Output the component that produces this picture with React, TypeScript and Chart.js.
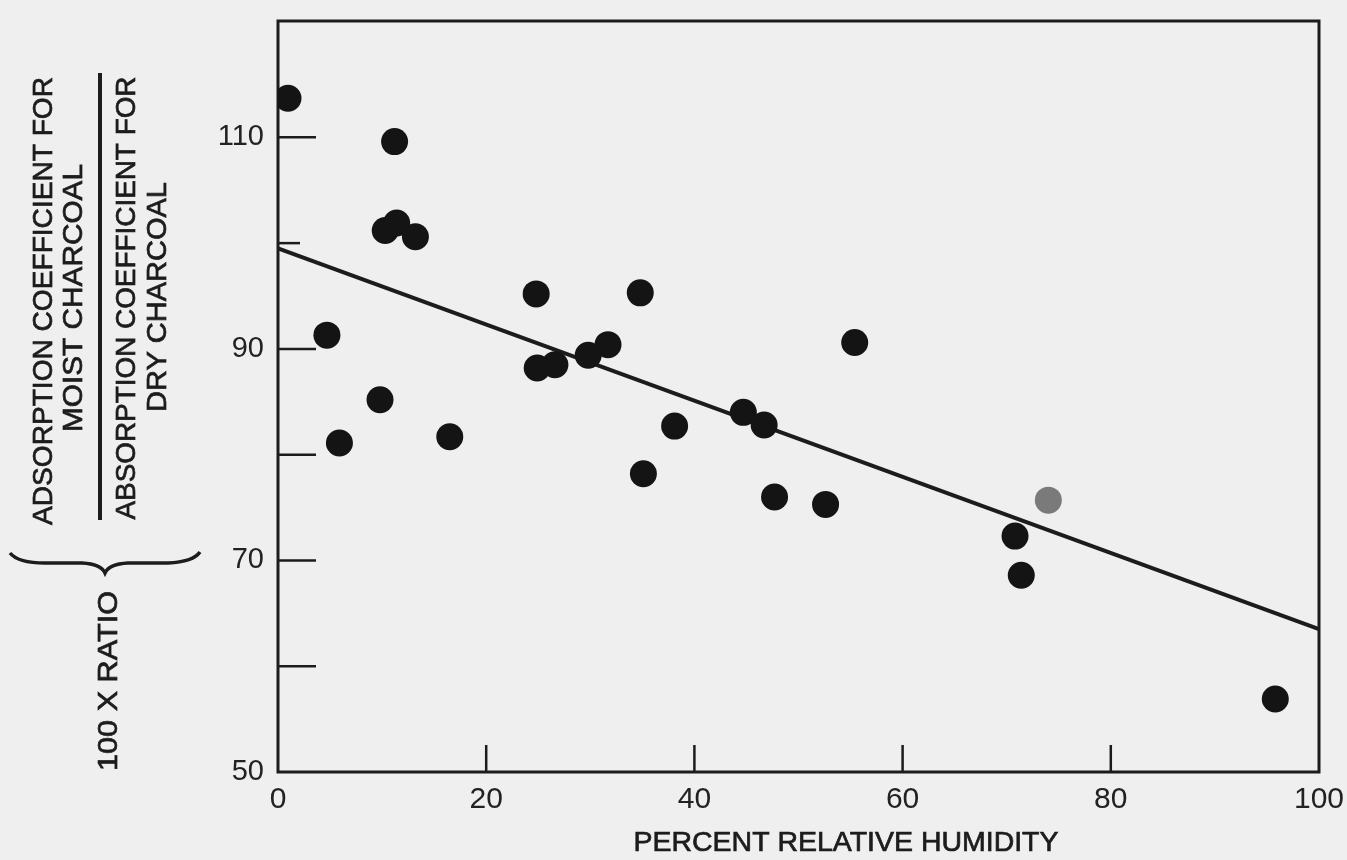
import React, { useEffect, useRef } from "react";
import { Chart, registerables } from "chart.js";

Chart.register(...registerables);

// ---- data ----
const humidity = [0.96, 11.2, 10.3, 11.4, 13.2, 4.7, 9.8, 5.9, 16.5, 24.8, 24.9, 26.6, 29.8, 31.7, 34.8, 35.1, 38.1, 44.7, 46.7, 47.7, 52.6, 55.4, 70.8, 71.4, 74.0, 95.8];
const ratio = [113.7, 109.6, 101.2, 101.9, 100.6, 91.3, 85.2, 81.1, 81.7, 95.2, 88.2, 88.5, 89.4, 90.4, 95.3, 78.2, 82.7, 84.0, 82.8, 76.0, 75.3, 90.6, 72.3, 68.6, 75.7, 56.9];
const fadedPoints = [24];
const fitX = [0, 100];
const fitY = [99.5, 63.5];
const yLabeledTicks = [50, 70, 90, 110];
const yTickMarks = [60, 70, 80, 90, 100, 110];
const yShortTickMarks = [100];
const xTickMarks = [20, 40, 60, 80];
const xTitle = "PERCENT RELATIVE HUMIDITY";
const numeratorLines = ["ADSORPTION COEFFICIENT FOR", "MOIST CHARCOAL"];
const denominatorLines = ["ABSORPTION COEFFICIENT FOR", "DRY CHARCOAL"];
const ratioLabel = "100 X RATIO";

const FONT = '"Liberation Sans", Arial, "Helvetica", sans-serif';
const INK = "#1c1c1c";

function vText(ctx: CanvasRenderingContext2D, text: string, cx: number, cy: number, len: number, size: number) {
  ctx.save();
  ctx.font = `${size}px ${FONT}`;
  const w = ctx.measureText(text).width;
  ctx.translate(cx, cy);
  ctx.rotate(-Math.PI / 2);
  ctx.scale(len / w, 1);
  ctx.textAlign = "center";
  ctx.textBaseline = "middle";
  ctx.fillStyle = INK;
  ctx.strokeStyle = INK;
  ctx.lineWidth = 0.7;
  ctx.fillText(text, 0, 0);
  ctx.strokeText(text, 0, 0);
  ctx.restore();
}

function hText(ctx: CanvasRenderingContext2D, text: string, cx: number, cy: number, len: number, size: number) {
  ctx.save();
  ctx.font = `${size}px ${FONT}`;
  const w = ctx.measureText(text).width;
  ctx.translate(cx, cy);
  ctx.scale(len / w, 1);
  ctx.textAlign = "center";
  ctx.textBaseline = "middle";
  ctx.fillStyle = INK;
  ctx.strokeStyle = INK;
  ctx.lineWidth = 0.7;
  ctx.fillText(text, 0, 0);
  ctx.strokeText(text, 0, 0);
  ctx.restore();
}

const decor = {
  id: "decor",
  beforeDatasetsDraw(chart: any) {
    const { ctx, chartArea: a, scales } = chart;
    ctx.save();
    ctx.strokeStyle = INK;
    // frame
    ctx.lineWidth = 3;
    ctx.strokeRect(a.left, a.top, a.right - a.left, a.bottom - a.top);
    // y tick marks (inside)
    ctx.lineWidth = 2.5;
    yTickMarks.forEach((v) => {
      const y = scales.y.getPixelForValue(v);
      const len = yShortTickMarks.includes(v) ? 22 : 38;
      ctx.beginPath();
      ctx.moveTo(a.left, y);
      ctx.lineTo(a.left + len, y);
      ctx.stroke();
    });
    // x tick marks (inside)
    xTickMarks.forEach((v) => {
      const x = scales.x.getPixelForValue(v);
      ctx.beginPath();
      ctx.moveTo(x, a.bottom);
      ctx.lineTo(x, a.bottom - 27);
      ctx.stroke();
    });
    ctx.restore();
  },
  afterDraw(chart: any) {
    const { ctx } = chart;
    // x title
    hText(ctx, xTitle, 846, 843, 425, 28);
    // left fraction title
    vText(ctx, numeratorLines[0], 44, 301, 448, 28);
    vText(ctx, numeratorLines[1], 74, 298, 268, 28);
    vText(ctx, denominatorLines[0], 127, 298, 443, 28);
    vText(ctx, denominatorLines[1], 158, 297, 230, 28);
    ctx.save();
    ctx.strokeStyle = INK;
    ctx.lineWidth = 4;
    ctx.beginPath();
    ctx.moveTo(100, 73);
    ctx.lineTo(100, 520);
    ctx.stroke();
    // brace
    ctx.lineWidth = 3.5;
    ctx.beginPath();
    ctx.moveTo(10, 553);
    ctx.quadraticCurveTo(18, 563, 45, 563);
    ctx.lineTo(82, 563);
    ctx.quadraticCurveTo(101, 564, 105, 573);
    ctx.quadraticCurveTo(109, 564, 128, 563);
    ctx.lineTo(168, 563);
    ctx.quadraticCurveTo(193, 562, 200, 552);
    ctx.stroke();
    ctx.restore();
    vText(ctx, ratioLabel, 110, 681, 180, 27);
  },
};

function zeroPad(s: any) {
  s.paddingTop = 0;
  s.paddingBottom = 0;
  s.paddingLeft = 0;
  s.paddingRight = 0;
}

export default function App() {
  const ref = useRef<HTMLCanvasElement | null>(null);
  useEffect(() => {
    if (!ref.current) return;
    const points = humidity.map((x, i) => ({ x, y: ratio[i] }));
    const fit = fitX.map((x, i) => ({ x, y: fitY[i] }));
    const colors = humidity.map((_, i) => (fadedPoints.includes(i) ? "#7a7a7a" : "#141414"));
    const chart = new Chart(ref.current, {
      type: "scatter",
      data: {
        datasets: [
          {
            type: "line",
            data: fit,
            borderColor: INK,
            borderWidth: 4,
            pointRadius: 0,
            order: 2,
          } as any,
          {
            data: points,
            pointRadius: 13.5,
            pointHoverRadius: 13.5,
            pointBackgroundColor: colors,
            pointBorderWidth: 0,
            borderWidth: 0,
            order: 1,
          },
        ],
      },
      options: {
        responsive: false,
        animation: false,
        events: [],
        layout: { padding: { left: 0, right: 28, top: 21, bottom: 0 } },
        plugins: { legend: { display: false }, tooltip: { enabled: false } },
        scales: {
          x: {
            type: "linear",
            min: 0,
            max: 100,
            grid: { display: false, drawTicks: false },
            border: { display: false },
            ticks: {
              stepSize: 20,
              padding: 10,
              color: "#222222",
              font: { family: FONT, size: 30 },
              maxRotation: 0,
            },
            afterFit: (s: any) => {
              s.height = 88;
              zeroPad(s);
            },
          },
          y: {
            type: "linear",
            min: 50,
            max: 121,
            grid: { display: false, drawTicks: false },
            border: { display: false },
            ticks: {
              stepSize: 10,
              padding: 14,
              color: "#222222",
              font: { family: FONT, size: 29 },
              callback: (v: any) => (yLabeledTicks.includes(Number(v)) ? String(v) : ""),
            },
            afterFit: (s: any) => {
              s.width = 278;
              zeroPad(s);
            },
          },
        },
      },
      plugins: [decor],
    });
    return () => chart.destroy();
  }, []);
  return (
    <div style={{ position: "fixed", left: 0, top: 0, width: 1347, height: 860, background: "#efefef" }}>
      <canvas ref={ref} width={1347} height={860} style={{ display: "block" }} />
    </div>
  );
}
